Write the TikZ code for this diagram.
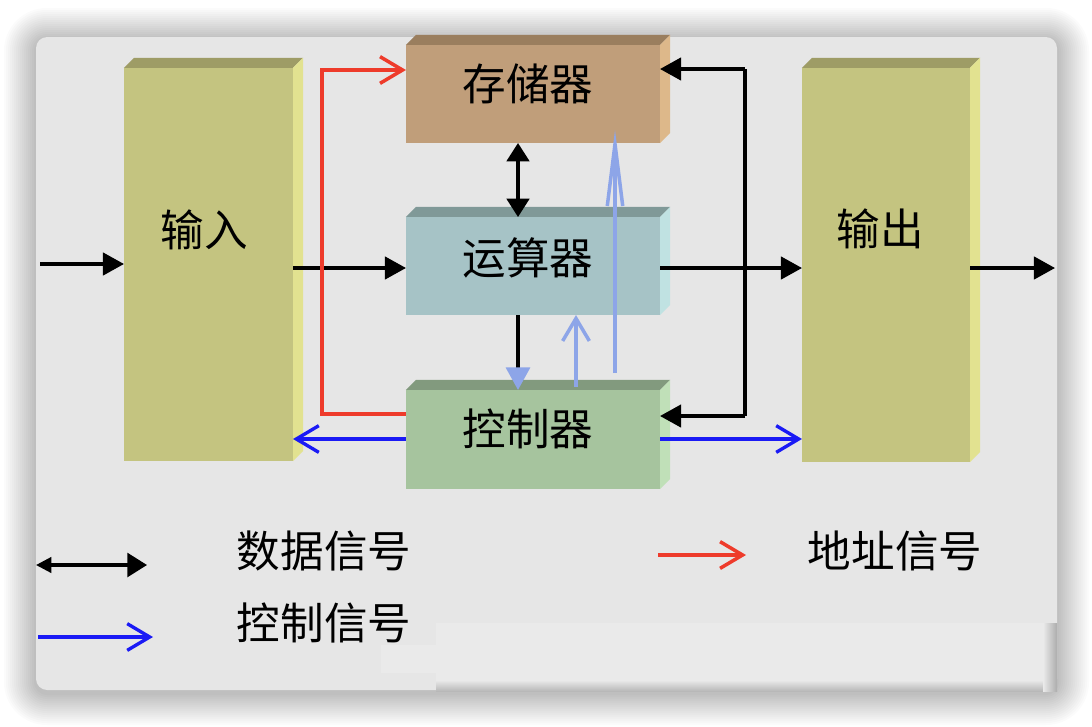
\documentclass[tikz,border=0pt]{standalone}
\usepackage{fontspec}
\setmainfont{Noto Sans CJK SC}
\usetikzlibrary{arrows.meta,calc}
\definecolor{bgc}{HTML}{E6E6E6}
\definecolor{smc}{HTML}{EAEAEA}
\definecolor{olF}{HTML}{C4C480}
\definecolor{olT}{HTML}{9E9C66}
\definecolor{olS}{HTML}{E2E290}
\definecolor{brF}{HTML}{C09E7A}
\definecolor{brT}{HTML}{9A7E5E}
\definecolor{brS}{HTML}{DDB88A}
\definecolor{tlF}{HTML}{A6C3C6}
\definecolor{tlT}{HTML}{809998}
\definecolor{tlS}{HTML}{C0E2E2}
\definecolor{gnF}{HTML}{A6C49E}
\definecolor{gnT}{HTML}{829A7E}
\definecolor{gnS}{HTML}{C0E0B8}
\definecolor{lbc}{HTML}{8DA5E8}
\definecolor{bluec}{HTML}{1A1AF5}
\definecolor{redc}{HTML}{EE3B2B}
\newcommand\boxfaces[3]{%
  \fill[#2] (#1.north west) -- ++(10,-10) -- ($(#1.north east)+(10,-10)$) -- (#1.north east) -- cycle;
  \fill[#3] (#1.north east) -- ++(10,-10) -- ($(#1.south east)+(10,-10)$) -- (#1.south east) -- cycle;}
\begin{document}
\begin{tikzpicture}[x=0.025cm,y=-0.025cm,
  unit/.style={draw=none,inner sep=0pt,outer sep=0pt},
  txt/.style={inner sep=0pt,font=\fontsize{31}{36}\selectfont},
  blk/.style={draw=black,line width=2.2pt},
  lbl/.style={draw=lbc,line width=2.5pt},
  redl/.style={draw=redc,line width=2.5pt},
  bluel/.style={draw=bluec,line width=2.4pt},
  tri/.tip={Triangle[length=15pt,width=16pt]},
  smalltri/.tip={Triangle[length=13pt,width=16pt]},
  barb/.tip={Straight Barb[length=16pt,width=19pt]},
  longbarb/.tip={Straight Barb[length=44pt,width=11pt]}]
\useasboundingbox (0,0) rectangle (1092,726);
\fill[white] (0,0) rectangle (1092,726);
% soft shadow of the panel
\foreach \i in {1,...,16}{
  \fill[black,opacity=0.014,rounded corners={8pt+1.4pt*\i}] (36-2*\i,40-2*\i) rectangle (1057+2*\i,693+2*\i);
}
% background panel
\fill[bgc,rounded corners=8pt] (36,37) rectangle (1057,690);
% faint smudge
\fill[smc] (381,645) rectangle (436,673);
\fill[smc] (436,623) rectangle (1043,680);
\shade[top color=smc,bottom color=bgc!80!black] (436,680) rectangle (1043,691);
\shade[left color=smc,right color=bgc!75!black] (1043,623) rectangle (1057,691);
% boxes
\node[unit,fill=olF,minimum width=4.225cm,minimum height=9.825cm] (in) at (208.5,264.5) {};
\boxfaces{in}{olT}{olS}
\node[unit,fill=olF,minimum width=4.2cm,minimum height=9.85cm] (out) at (886,265) {};
\boxfaces{out}{olT}{olS}
\node[unit,fill=brF,minimum width=6.35cm,minimum height=2.45cm] (mem) at (533,94) {};
\boxfaces{mem}{brT}{brS}
\node[unit,fill=tlF,minimum width=6.35cm,minimum height=2.45cm] (alu) at (533,266) {};
\boxfaces{alu}{tlT}{tlS}
\node[unit,fill=gnF,minimum width=6.35cm,minimum height=2.475cm] (ctl) at (533,439.5) {};
\boxfaces{ctl}{gnT}{gnS}
% texts
\node[txt] (inT) at (204,230) {输入};
\node[txt] (outT) at (880,229) {输出};
\node[txt] (memT) at (528,84) {存储器};
\node[txt] (aluT) at (528,258) {运算器};
\node[txt] (ctlT) at (528,429) {控制器};
% data connectors
\coordinate (src) at (40,264);
\coordinate (snk) at (1055,268);
\draw[blk,-tri] (src) -- (src -| in.west);
\draw[blk,-tri] (in.east |- 0,268) -- (alu.west |- 0,268);
\draw[blk,-tri] (alu.east |- 0,268) -- (out.west |- 0,268);
\draw[blk,-tri] (out.east |- snk) -- (snk);
\draw[blk,smalltri-smalltri] (mem.south -| 518,0) -- (alu.north -| 518,0);
\draw[blk,-{Triangle[length=16pt,width=17pt,color=lbc]}] (alu.south -| 518,0) -- (ctl.north -| 518,0);
\coordinate (bt) at (745,69);
\coordinate (bb) at (745,416);
\draw[blk] (bt) -- (bb);
\draw[blk,-tri] (bt) -- (bt -| mem.east);
\draw[blk,-tri] (bb) -- (bb -| ctl.east);
% control (light blue)
\draw[lbl,-barb] ([yshift=2pt]ctl.north -| 576,0) -- (alu.south -| 576,0);
\coordinate (lbs) at (615,373);
\coordinate (lbe) at (615,130);
\draw[lbl,-longbarb] (lbs) -- (lbe);
% address (red)
\coordinate (rc1) at (322,414);
\coordinate (rc2) at (322,70);
\draw[redl,-barb] (ctl.west |- rc1) -- (rc1) -- (rc2) -- (rc2 -| mem.west);
% control (blue)
\draw[bluel,-barb] (ctl.west |- 0,439) -- (in.east |- 0,439);
\draw[bluel,-barb] (ctl.east |- 0,439) -- (out.west |- 0,439);
% legend
\coordinate (k1a) at (36,565);
\coordinate (k1b) at (147,565);
\draw[blk,{Triangle[length=11pt,width=11pt]}-{Triangle[length=14pt,width=17pt]}] (k1a) -- (k1b);
\coordinate (k2a) at (38,637);
\coordinate (k2b) at (153,637);
\draw[bluel,-barb] (k2a) -- (k2b);
\coordinate (k3a) at (658,555);
\coordinate (k3b) at (746,555);
\draw[redl,-barb] (k3a) -- (k3b);
\node[txt] (l1) at (324,551) {数据信号};
\node[txt] (l2) at (324,623) {控制信号};
\node[txt] (l3) at (895,551) {地址信号};
\end{tikzpicture}
\end{document}
